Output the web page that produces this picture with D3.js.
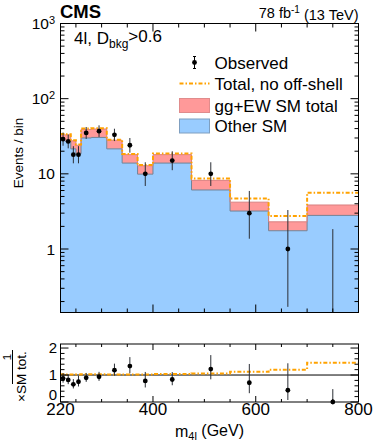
<!DOCTYPE html>
<html>
<head>
<meta charset="utf-8">
<script src="https://cdn.jsdelivr.net/npm/d3@7"></script>
<style>
  body { margin: 0; background: #fff; }
  svg text { font-family: "Liberation Sans", Arial, Helvetica, sans-serif; fill: #000; }
</style>
</head>
<body>
<div id="chart"></div>
<script>
// bin edges in m4l (GeV)
var edges = [220, 230, 240, 250, 260, 280, 310, 340, 370, 400, 475, 550, 625, 700, 800];
var otherSM = [27.5, 27, 21.5, 18.5, 30, 30.5, 21.5, 13.9, 9.9, 13.9, 6.1, 3.2, 1.75, 2.8];
var ggEW = [5.5, 6, 6, 5.5, 9, 9, 6.5, 4.1, 2.9, 4.1, 2.1, 1.0, 0.55, 1.05];
var noOffShell = [34, 33.5, 28, 24.5, 40, 40.5, 28.5, 18.4, 13.1, 18.7, 8.7, 4.7, 2.75, 5.6];
var observed = [29, 27, 18, 18, 35, 37, 33, 24, 10, 15, 10, 3, 1, 0];
var obsErrLo = [5.35, 5.16, 4.20, 4.20, 5.89, 6.06, 5.72, 4.86, 3.11, 3.82, 3.11, 1.63, 0.83, 0];
var obsErrHi = [6.46, 6.27, 5.33, 5.33, 7.00, 7.17, 6.83, 5.97, 4.26, 4.95, 4.26, 2.92, 2.30, 1.84];

var xMajor = [400, 600, 800];
var xMinor = [250, 300, 350, 450, 500, 550, 650, 700, 750];
var xLabels = [220, 400, 600, 800];
var yMajor = [1, 10, 100, 1000];
var rMajor = [0, 1, 2];

var blue = '#99ccff', pink = '#ff9999', orange = '#ffa200';

var n = observed.length;
var total = otherSM.map(function(v, i) { return v + ggEW[i]; });
var centers = edges.slice(0, n).map(function(e, i) { return (e + edges[i + 1]) / 2; });

var svg = d3.select('#chart').append('svg')
  .attr('width', 374)
  .attr('height', 446);

var x = d3.scaleLinear().domain([220, 800]).range([60.5, 358.5]);
var y = d3.scaleLog().domain([0.143, 1000]).range([312.5, 23.5]);
var yr = d3.scaleLinear().domain([0, 2.15]).range([402, 344]);

var x0 = x.range()[0], x1 = x.range()[1];

svg.append('clipPath').attr('id', 'clipMain')
  .append('rect').attr('x', x0).attr('y', y.range()[1]).attr('width', x1 - x0).attr('height', y.range()[0] - y.range()[1]);
svg.append('clipPath').attr('id', 'clipRatio')
  .append('rect').attr('x', x0).attr('y', yr.range()[1] - 3).attr('width', x1 - x0).attr('height', yr.range()[0] - yr.range()[1] + 6);

// step data, last edge repeats the last bin value
function steps(vals) {
  return edges.map(function(e, i) { return {e: e, v: vals[Math.min(i, n - 1)], i: Math.min(i, n - 1)}; });
}

var main = svg.append('g').attr('clip-path', 'url(#clipMain)');

var stepLine = d3.line().curve(d3.curveStepAfter)
  .x(function(d) { return x(d.e); })
  .y(function(d) { return y(d.v); });

main.append('path')
  .datum(steps(otherSM))
  .attr('d', d3.area().curve(d3.curveStepAfter)
    .x(function(d) { return x(d.e); })
    .y0(y.range()[0])
    .y1(function(d) { return y(d.v); }))
  .attr('fill', blue);

main.append('path')
  .datum(steps(otherSM))
  .attr('d', d3.area().curve(d3.curveStepAfter)
    .x(function(d) { return x(d.e); })
    .y0(function(d) { return y(otherSM[d.i]); })
    .y1(function(d) { return y(total[d.i]); }))
  .attr('fill', pink);

main.append('path').datum(steps(otherSM)).attr('d', stepLine)
  .attr('fill', 'none').attr('stroke', '#6f8398').attr('stroke-width', 1);
main.append('path').datum(steps(total)).attr('d', stepLine)
  .attr('fill', 'none').attr('stroke', '#d98080').attr('stroke-width', 1);
main.append('path').datum(steps(noOffShell)).attr('d', stepLine)
  .attr('fill', 'none').attr('stroke', orange).attr('stroke-width', 2)
  .attr('stroke-dasharray', '4,2,1.5,2');

// observed
main.selectAll('.err').data(observed).enter().append('line')
  .attr('x1', function(d, i) { return x(centers[i]); })
  .attr('x2', function(d, i) { return x(centers[i]); })
  .attr('y1', function(d, i) { return d - obsErrLo[i] > 0 ? y(d - obsErrLo[i]) : y.range()[0] + 5; })
  .attr('y2', function(d, i) { return y(d + obsErrHi[i]); })
  .attr('stroke', '#2b2f36').attr('stroke-width', 1);
main.selectAll('.pt').data(observed.filter(function(d) { return d > 0; })).enter().append('circle')
  .attr('cx', function(d, i) { return x(centers[i]); })
  .attr('cy', function(d) { return y(d); })
  .attr('r', 2.4).attr('fill', '#000');

// ratio panel
var ratio = svg.append('g').attr('clip-path', 'url(#clipRatio)');
var ratioNoOff = noOffShell.map(function(v, i) { return v / total[i]; });

ratio.append('line')
  .attr('x1', x0).attr('x2', x1).attr('y1', yr(1)).attr('y2', yr(1))
  .attr('stroke', '#000').attr('stroke-width', 1);
ratio.append('path').datum(steps(ratioNoOff))
  .attr('d', d3.line().curve(d3.curveStepAfter)
    .x(function(d) { return x(d.e); })
    .y(function(d) { return yr(d.v); }))
  .attr('fill', 'none').attr('stroke', orange).attr('stroke-width', 2)
  .attr('stroke-dasharray', '4,2,1.5,2');
ratio.selectAll('.rerr').data(observed).enter().append('line')
  .attr('x1', function(d, i) { return x(centers[i]); })
  .attr('x2', function(d, i) { return x(centers[i]); })
  .attr('y1', function(d, i) { return yr((d - obsErrLo[i]) / total[i]); })
  .attr('y2', function(d, i) { return yr((d + obsErrHi[i]) / total[i]); })
  .attr('stroke', '#2b2f36').attr('stroke-width', 1);
ratio.selectAll('.rpt').data(observed).enter().append('circle')
  .attr('cx', function(d, i) { return x(centers[i]); })
  .attr('cy', function(d, i) { return yr(d / total[i]); })
  .attr('r', 2.4).attr('fill', '#000');

// frames and ticks
function frame(top, bottom, xMajLen, xMinLen) {
  svg.append('rect').attr('x', x0).attr('y', top).attr('width', x1 - x0).attr('height', bottom - top)
    .attr('fill', 'none').attr('stroke', '#000').attr('stroke-width', 1);
  var g = svg.append('g').attr('stroke', '#000').attr('stroke-width', 1);
  [[xMajor, xMajLen], [xMinor, xMinLen]].forEach(function(p) {
    p[0].forEach(function(v) {
      g.append('line').attr('x1', x(v)).attr('x2', x(v)).attr('y1', bottom).attr('y2', bottom - p[1]);
      g.append('line').attr('x1', x(v)).attr('x2', x(v)).attr('y1', top).attr('y2', top + p[1]);
    });
  });
  return g;
}

var gm = frame(y.range()[1], y.range()[0], 8, 4);
yMajor.forEach(function(dec) {
  for (var k = 1; k < 10; k++) {
    var v = dec * k / 10;
    if (v < y.domain()[0] || v > y.domain()[1]) continue;
    var len = k === 1 ? 8 : 4;
    gm.append('line').attr('x1', x0).attr('x2', x0 + len).attr('y1', y(v)).attr('y2', y(v));
    gm.append('line').attr('x1', x1).attr('x2', x1 - len).attr('y1', y(v)).attr('y2', y(v));
  }
});
[1000].forEach(function(v) {
  gm.append('line').attr('x1', x0).attr('x2', x0 + 8).attr('y1', y(v)).attr('y2', y(v));
});

var gr = frame(yr.range()[1], yr.range()[0], 6, 3);
d3.range(0, 2.15, 0.2).forEach(function(v) {
  var maj = Math.abs(v - Math.round(v)) < 1e-6;
  var len = maj ? 8 : 4;
  gr.append('line').attr('x1', x0).attr('x2', x0 + len).attr('y1', yr(v)).attr('y2', yr(v));
  gr.append('line').attr('x1', x1).attr('x2', x1 - len).attr('y1', yr(v)).attr('y2', yr(v));
});

// axis labels
yMajor.forEach(function(v) {
  var t = svg.append('text').attr('x', 55).attr('y', y(v)).attr('dy', '0.36em')
    .attr('text-anchor', 'end').style('font-size', '15.5px');
  if (v < 100) {
    t.text(String(v));
  } else {
    t.append('tspan').text('10');
    t.append('tspan').attr('dy', '-0.45em').style('font-size', '11px').text(String(Math.log10(v)));
  }
});
rMajor.forEach(function(v) {
  svg.append('text').attr('x', 57).attr('y', yr(v) - (v === 0 ? 7 : 0)).attr('dy', '0.36em')
    .attr('text-anchor', 'end').style('font-size', '15px').text(v);
});
xLabels.forEach(function(v) {
  svg.append('text').attr('x', x(v)).attr('y', 415).attr('text-anchor', 'middle')
    .style('font-size', '17px').text(v);
});

var xt = svg.append('text').attr('x', (x0 + x1) / 2).attr('y', 437).attr('text-anchor', 'middle')
  .style('font-size', '16px');
xt.append('tspan').text('m');
xt.append('tspan').attr('dy', '0.3em').style('font-size', '11px').text('4l');
xt.append('tspan').attr('dy', '-0.3em').text(' (GeV)');

svg.append('text').attr('transform', 'translate(23,153) rotate(-90)')
  .attr('text-anchor', 'middle').style('font-size', '13.5px').text('Events / bin');

var rt = svg.append('g').attr('transform', 'translate(26,402) rotate(-90)');
rt.append('text').attr('x', 0).attr('y', 0).style('font-size', '13.5px').text('\u00d7SM tot.');
rt.append('line').attr('x1', 18).attr('x2', 52).attr('y1', -13.5).attr('y2', -13.5)
  .attr('stroke', '#000').attr('stroke-width', 1);
rt.append('text').attr('x', 45).attr('y', -15.5).attr('text-anchor', 'middle')
  .style('font-size', '11.5px').text('1');

// header
svg.append('text').attr('x', 60).attr('y', 17.5).style('font-size', '18.5px')
  .style('font-weight', 'bold').text('CMS');
var lumi = svg.append('text').attr('x', 358.5).attr('y', 17.5).attr('text-anchor', 'end')
  .style('font-size', '14.5px');
lumi.append('tspan').text('78 fb');
lumi.append('tspan').attr('dy', '-0.45em').style('font-size', '10px').text('-1');
lumi.append('tspan').attr('dy', '0.45em').text(' (13 TeV)');

var cat = svg.append('text').attr('x', 74).attr('y', 44).style('font-size', '17px');
cat.append('tspan').text('4l, D');
cat.append('tspan').attr('dy', '0.35em').style('font-size', '12px').text('bkg');
cat.append('tspan').attr('dy', '-0.35em').text('>0.6');

// legend
var lg = svg.append('g');
var lx = 179.5, lw = 30, tx = 214.5;
lg.append('line').attr('x1', lx + lw / 2).attr('x2', lx + lw / 2).attr('y1', 56.5).attr('y2', 68.5)
  .attr('stroke', '#000').attr('stroke-width', 1);
[56.5, 68.5].forEach(function(yy) {
  lg.append('line').attr('x1', lx + lw / 2 - 1.5).attr('x2', lx + lw / 2 + 1.5).attr('y1', yy).attr('y2', yy)
    .attr('stroke', '#000').attr('stroke-width', 1);
});
lg.append('circle').attr('cx', lx + lw / 2).attr('cy', 62.5).attr('r', 2.4).attr('fill', '#000');
lg.append('line').attr('x1', lx).attr('x2', lx + lw).attr('y1', 83.5).attr('y2', 83.5)
  .attr('stroke', orange).attr('stroke-width', 2).attr('stroke-dasharray', '4,2,1.5,2');
lg.append('rect').attr('x', lx).attr('y', 98.5).attr('width', lw).attr('height', 14)
  .attr('fill', pink).attr('stroke', '#e08c8c');
lg.append('rect').attr('x', lx).attr('y', 119).attr('width', lw).attr('height', 14)
  .attr('fill', blue).attr('stroke', '#7f9fc0');
[['Observed', 62.5], ['Total, no off-shell', 83.5], ['gg+EW SM total', 105.5], ['Other SM', 126]].forEach(function(r) {
  lg.append('text').attr('x', tx).attr('y', r[1]).attr('dy', '0.36em').style('font-size', '17px').text(r[0]);
});
</script>
</body>
</html>
